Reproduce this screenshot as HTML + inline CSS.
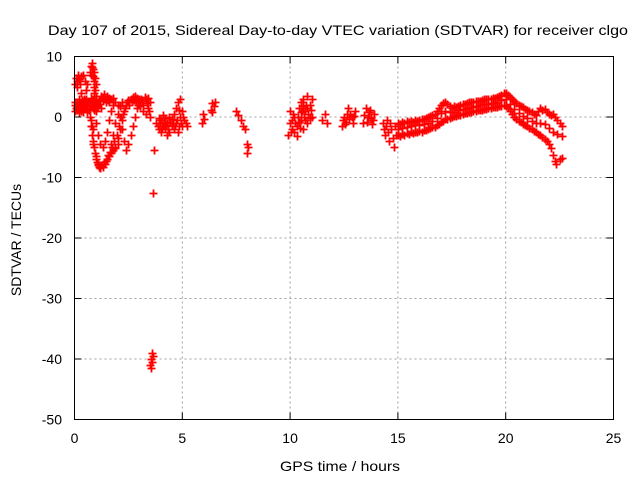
<!DOCTYPE html>
<html><head><meta charset="utf-8"><style>
body{margin:0;background:#fff}
svg text{font-family:"Liberation Sans",sans-serif;font-size:14px;fill:#000}
</style></head><body>
<svg id="chart" width="640" height="480" xmlns="http://www.w3.org/2000/svg">
<text x="48" y="35" textLength="580" lengthAdjust="spacingAndGlyphs">Day 107 of 2015, Sidereal Day-to-day VTEC variation (SDTVAR) for receiver clgo</text>
<text x="280" y="471" textLength="120" lengthAdjust="spacingAndGlyphs">GPS time / hours</text>
<text transform="translate(21,240) rotate(-90)" text-anchor="middle">SDTVAR / TECUs</text>
<g id="grid"></g>
<g id="ticks"></g>
<g id="marks"></g>
<rect x="74.5" y="56.5" width="539" height="363" fill="none" stroke="#000"/>
</svg>
<script>
const xTicks=[0,5,10,15,20,25];
const yTicks=[10,0,-10,-20,-30,-40,-50];
const clusterEarly=[[0,2],[0.05,1.5],[0.1,2.5],[0.15,1.8],[0.2,3],[0.25,2],[0.3,1.6],[0.35,2.8],[0.4,2.2],[0.45,1.5],[0.5,2.6],[0.55,3],[0.6,2],[0.65,1.2],[0.7,2.5],[0.75,3.2],[0.8,2],[0.85,1.5],[0.9,2.7],[0.95,2],[1,1],[1.05,2.5],[1.1,1.8],[1.15,3],[1.2,2.2],[1.25,3.5],[1.3,2.8],[1.35,3.8],[1.4,3],[1.5,3.5],[1.6,3.2],[0,1],[0.1,1.2],[0.2,0.8],[0.3,1],[0.4,0.9],[0.5,1.3],[0.6,0.8],[0,5.5],[0.05,6.5],[0.1,5],[0.15,7],[0.2,6.2],[0.3,6.8],[0.4,7],[0.5,6],[0.55,4.5],[0.6,5.5],[0.7,7.5],[0.75,8.5],[0.8,9],[0.85,8],[0.9,6],[0.95,4.5],[1,3.5],[0.9,7.5],[0.9,5],[0.95,6.5],[0.1,6],[0.25,5.5],[0.3,4],[0.02,2.5],[0.12,1.9],[0.22,2.4],[0.32,2.1],[0.42,2.9],[0.52,1.9],[0.62,2.4],[0.72,1.8],[0.82,2.8],[0.92,1.2],[1.02,2.2],[1.12,2.6],[1.22,1.5],[1.32,3.2],[1.45,2.5],[1.55,2.8],[0.78,7],[0.82,8.2],[0.88,6.8],[0.92,4],[0.98,5.5]];
const clusterDip=[[0.7,0],[0.75,-1.5],[0.8,-3],[0.85,-4],[0.9,-5],[0.95,-6],[1,-7],[1.05,-7.5],[1.1,-8],[1.15,-8.3],[1.2,-8.5],[1.3,-8.3],[1.4,-7.8],[1.5,-7],[1.6,-6.5],[1.7,-6],[1.8,-5.5],[1.9,-5.2],[2,-4.5],[0.75,-0.5],[0.8,-1.5],[0.85,-2],[1,-1],[1.1,-3],[1.2,-4.5],[1.3,-5],[1.4,-4],[1.5,-2.5],[1.6,-0.5],[1.7,1],[1.8,2],[1.9,2.5],[2,2],[2.1,0],[2.2,-2],[2.3,-4],[2.4,-5.5],[1.9,-5],[2,-3.5],[2.1,-2],[2.2,-0.5],[2.3,1],[2.4,2],[2.5,2.8],[2.6,3],[2.7,3.3],[2.8,3.5],[2.9,3.2],[3,3],[2.5,-4.5],[2.6,-3],[2.7,-1.5],[2.8,0],[2.9,1.5],[3,2.5],[3.1,3],[3.2,2],[3.3,3],[3.4,1.5],[3.5,2.5],[3.3,0.5],[3.5,0],[3.4,3.2],[3.2,1],[1.7,-4.5],[1.8,-3],[1.9,-1],[2,0.5],[2.1,1.8],[2.2,2.5],[1.6,2.5],[1.7,3],[1.8,3.2],[0.88,-4.5],[0.98,-6.5],[1.08,-7.8],[1.18,-8.4],[1.25,-8],[1.35,-7.5],[1.45,-7.2],[1.55,-6.2],[1.65,-5.8],[1.75,-5],[1.85,-4],[1.95,-3],[2.05,-1.5],[2.15,0],[2.25,0.5],[2.35,1.5],[2.45,2.4],[2.55,2],[2.65,2.6],[2.75,2.8],[2.85,2.5],[2.95,2],[3.05,1.8],[3.15,2.6],[3.25,3.3],[3.35,2.3],[3.45,1]];
const clusterMid=[[3.8,-1],[3.9,-2],[4,-0.5],[4,-2.5],[4.1,-1.5],[4.2,-0.2],[4.2,-2],[4.3,-1],[4.4,0],[4.4,-2.5],[4.5,-1.5],[4.6,0.5],[4.6,-2],[4.7,-1],[4.7,1.5],[4.8,2.5],[4.8,-2.5],[4.9,3],[4.9,0],[5,-1.5],[5,1],[5.1,-0.5],[5.2,-1.5],[4.3,-3],[4.5,-0.3],[3.9,-0.2],[4.1,0.3],[3.85,-1.5],[3.95,-1],[4.05,-1.8],[4.15,-0.8],[4.25,-1.4],[4.35,-2],[4.45,-0.8],[4.55,-1],[4.65,-1.5],[4.75,-0.5],[4.85,-1.5],[4.95,-1],[5.05,0],[5.15,-1],[4.85,1.2],[3.7,-5.5],[3.65,-12.5],[3.5,-41],[3.55,-40],[3.6,-39],[3.55,-41.5],[3.65,-39.5],[3.6,-40.5],[5.9,-1],[5.95,0.5],[6,-0.3],[6.35,1.2],[6.4,2.3],[6.45,1.8],[6.5,2.5],[6.4,0.8],[7.5,1],[7.6,0.3],[7.7,-0.5],[7.8,-1.5],[7.9,-2],[8,-4.5],[8,-6],[8.05,-5]];
const clusterLate=[[9.9,-3],[10,-1],[10,1],[10.1,-2],[10.2,0],[10.3,-1.5],[10.4,1.5],[10.5,2.5],[10.5,-0.5],[10.6,3],[10.7,1],[10.8,3.5],[10.8,-1],[10.9,2],[11,0],[11,3],[10.3,-3.2],[10.6,-2],[10.05,-2.5],[10.15,0.5],[10.25,-1],[10.35,0],[10.45,-1.8],[10.55,1],[10.65,0],[10.75,2],[10.85,0.5],[10.95,1.2],[10.1,-0.5],[10.2,-2.5],[10.4,-0.8],[10.5,0.8],[10.6,1.8],[10.7,-0.5],[10.8,1.5],[10.9,-0.2],[11.5,-0.5],[11.6,0.5],[11.7,-1],[12.4,-1.5],[12.5,0],[12.6,-0.8],[12.7,1.5],[12.8,0.5],[12.9,-1],[13,1],[12.45,-0.5],[12.55,-1.2],[12.65,0.5],[12.75,-0.3],[12.85,0],[12.95,0.2],[13.4,-1],[13.5,1.5],[13.6,0],[13.7,1.2],[13.8,-1.2],[13.9,0.5],[13.45,0.3],[13.55,-0.8],[13.65,0.8],[13.75,-0.2],[13.85,-0.5],[14.3,-1],[14.4,-3],[14.5,-0.5],[14.6,-4],[14.7,-2],[14.8,-5],[14.9,-3],[14.35,-2],[14.45,-1.5],[14.55,-2.5],[14.65,-1],[14.75,-3.5],[14.85,-1.5]];
const bandLow=[[15,-3],[15.1,-3.2],[15.2,-2.8],[15.3,-3],[15.4,-2.6],[15.5,-2.8],[15.6,-2.5],[15.7,-2.7],[15.8,-2.4],[15.9,-2.5],[16,-2.3],[16.1,-2.4],[16.2,-2.1],[16.3,-2.2],[16.4,-2],[16.5,-1.9],[16.6,-1.7],[16.7,-1.6],[16.8,-1.3],[16.9,-1.1],[17,-0.8],[17.1,-0.6],[17.2,-0.4],[17.3,-0.3],[17.4,-0.1],[17.5,0],[17.6,0.1],[17.7,0.2],[17.8,0.3],[17.9,0.4],[18,0.5],[18.1,0.6],[18.2,0.6],[18.3,0.8],[18.4,0.9],[18.5,1],[18.6,1],[18.7,1.1],[18.8,1.2],[18.9,1.2],[19,1.3],[19.1,1.4],[19.2,1.5],[19.3,1.5],[19.4,1.6],[19.5,1.7],[19.6,1.7],[19.7,1.8],[19.8,1.9],[19.9,2],[20,1.8],[20.1,1.5],[20.2,1],[20.3,0.5],[20.4,0],[20.5,-0.3],[20.6,-0.6],[20.7,-0.9],[20.8,-1.1],[20.9,-1.3],[21,-1.5],[21.1,-1.8],[21.2,-2],[21.3,-2.3],[21.4,-2.5],[21.5,-2.8],[21.6,-3],[21.7,-3.3],[21.8,-3.6],[21.9,-4],[22,-4.5],[22.1,-5.2],[22.2,-6.2],[22.3,-7.2],[22.35,-7.8],[22.5,-7],[22.6,-6.8]];
const bandHigh=[[15,-1],[15.1,-1.2],[15.2,-0.8],[15.3,-1],[15.4,-0.7],[15.5,-0.9],[15.6,-0.6],[15.7,-0.8],[15.8,-0.5],[15.9,-0.6],[16,-0.5],[16.1,-0.4],[16.2,-0.3],[16.3,-0.2],[16.4,0],[16.5,0.1],[16.6,0.3],[16.7,0.5],[16.8,1],[16.9,1.5],[17,2],[17.1,2.3],[17.2,2.5],[17.3,2.2],[17.4,1.8],[17.5,1.5],[17.6,1.8],[17.7,1.7],[17.8,1.9],[17.9,2],[18,2.1],[18.1,2.2],[18.2,2.3],[18.3,2.4],[18.4,2.5],[18.5,2.4],[18.6,2.6],[18.7,2.7],[18.8,2.7],[18.9,2.8],[19,2.9],[19.1,2.9],[19.2,3],[19.3,3],[19.4,3.1],[19.5,3.1],[19.6,3.3],[19.7,3.5],[19.8,3.7],[19.9,3.9],[20,4],[20.1,3.7],[20.2,3.3],[20.3,3],[20.4,2.6],[20.5,2.3],[20.6,2],[20.7,1.8],[20.8,1.6],[20.9,1.4],[21,1.2],[21.1,1],[21.2,0.8],[21.3,0.5],[21.4,0.3],[21.5,1],[21.6,1.5],[21.7,1.2],[21.8,1.3],[21.9,0.8],[22,0.5],[22.1,0.3],[22.2,0.5],[22.3,0],[22.4,-0.5],[22.5,-1],[22.6,-1.5]];
const bandMid=[[15,-2],[15.2,-1.8],[15.4,-1.6],[15.6,-1.5],[15.8,-1.4],[16,-1.3],[16.2,-1.2],[16.4,-1],[16.6,-0.7],[16.8,-0.2],[17,0.6],[17.2,1],[17.4,0.8],[17.6,0.9],[17.8,1.1],[18,1.3],[18.2,1.5],[18.4,1.7],[18.6,1.8],[18.8,2],[19,2.1],[19.2,2.2],[19.4,2.3],[19.6,2.5],[19.8,2.8],[20,3],[20.2,2.2],[20.4,1.3],[20.6,0.7],[20.8,0.2],[21,-0.2],[21.2,-0.6],[21.4,-1],[21.6,-1],[21.8,-1.2],[22,-1.8],[22.2,-2.5],[22.4,-2.8],[22.6,-3.2]];
const NS='http://www.w3.org/2000/svg';
const X0=74.5,X1=613.5,Y0=56.5,Y1=419.5;
function sx(v){return X0+(v-0)/(25-0)*(X1-X0);}
function sy(v){return Y0+(10-v)/(10-(-50))*(Y1-Y0);}
const grid=document.getElementById('grid'),ticks=document.getElementById('ticks'),marks=document.getElementById('marks');
function mk(t,a,p){const e=document.createElementNS(NS,t);for(const k in a)e.setAttribute(k,a[k]);p.appendChild(e);return e;}
xTicks.forEach(v=>{const x=sx(v);
 if(v>0&&v<25){const g=mk('line',{x1:x,x2:x,y1:Y0,y2:Y1,stroke:'#a0a0a0','stroke-dasharray':'2,3'},grid);}
 mk('line',{x1:x,x2:x,y1:Y1,y2:Y1-7,stroke:'#000'},ticks);mk('line',{x1:x,x2:x,y1:Y0,y2:Y0+7,stroke:'#000'},ticks);
 const t=mk('text',{x:x,y:443,'text-anchor':'middle'},ticks);t.textContent=v;
 });
yTicks.forEach(v=>{const y=sy(v);
 if(v<10&&v>-50){const g=mk('line',{x1:X0,x2:X1,y1:y,y2:y,stroke:'#a0a0a0','stroke-dasharray':'2,3'},grid);}
 mk('line',{x1:X0,x2:X0+7,y1:y,y2:y,stroke:'#000'},ticks);mk('line',{x1:X1,x2:X1-7,y1:y,y2:y,stroke:'#000'},ticks);
 const t=mk('text',{x:62,y:y+5,'text-anchor':'end'},ticks);t.textContent=v;
 });
[clusterEarly,clusterDip,clusterMid,clusterLate,bandLow,bandHigh,bandMid].forEach(seg=>seg.forEach(p=>{
 const x=Math.round(sx(p[0]))+0.5,y=Math.round(sy(p[1]))+0.5;
 const m=mk('path',{d:'M'+(x-4)+' '+y+'H'+(x+4)+'M'+x+' '+(y-4)+'V'+(y+4),fill:'none',stroke:'#ff0000','stroke-width':'1.8'},marks);
 
 
}));
</script>
</body></html>
